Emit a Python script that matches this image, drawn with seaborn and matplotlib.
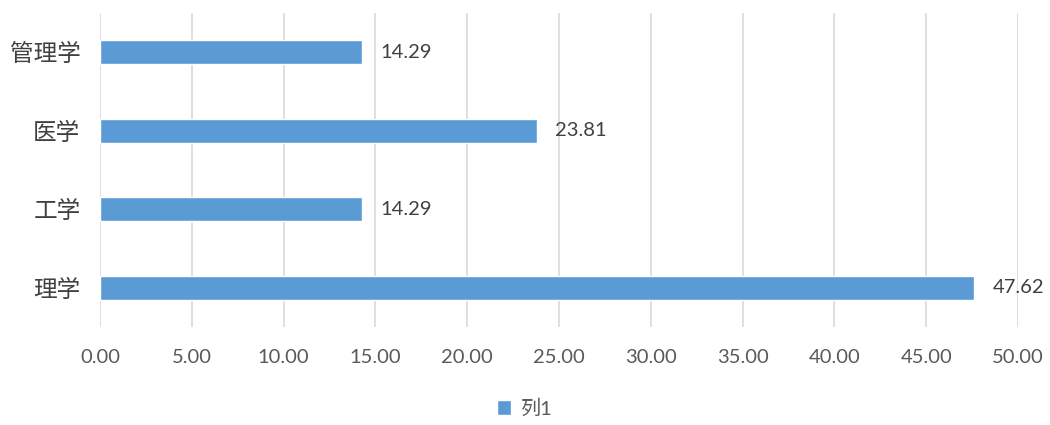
import seaborn as sns
import pandas as pd
import matplotlib.pyplot as plt
import matplotlib

matplotlib.use("agg")

categories = ["管理学", "医学", "工学", "理学"]
values = [14.29, 23.81, 14.29, 47.62]
series_name = "列1"
xticks = [0, 5, 10, 15, 20, 25, 30, 35, 40, 45, 50]

sns.set_style("white")
plt.rcParams["font.family"] = ["Lato", "Noto Sans CJK SC", "DejaVu Sans"]

df = pd.DataFrame({"category": categories, "value": values})

fig = plt.figure(figsize=(10.5, 4.25), dpi=100)
ax = fig.add_axes([0.0952, 0.2306, 0.8743, 0.7388])

sns.barplot(data=df, x="value", y="category", order=categories, color="#5B9BD5",
            saturation=1, width=0.3, label=series_name, ax=ax, orient="h")

for c in ax.containers:
    ax.bar_label(c, labels=[f"{v:.2f}" for v in values], padding=13,
                 fontsize=14.5, color="#404040")

ax.set_xlim(0, 50)
ax.set_ylim(3.5, -0.5)
ax.set_xticks(xticks)
ax.set_xticklabels([f"{t:.2f}" for t in xticks])
ax.grid(axis="x", color="#d9d9d9", linewidth=1.2)
ax.set_axisbelow(True)
for s in ax.spines.values():
    s.set_visible(False)
ax.tick_params(axis="x", length=0, pad=16, labelsize=14.5, labelcolor="#595959")
ax.tick_params(axis="y", length=0, pad=14, labelsize=17, labelcolor="#404040")
ax.set_xlabel("")
ax.set_ylabel("")

if ax.legend_:
    ax.legend_.remove()
handles, labels = ax.get_legend_handles_labels()
fig.legend(handles, labels, loc="lower center", bbox_to_anchor=(0.5, -0.025),
           frameon=False, fontsize=14.5, handlelength=0.7, handleheight=0.7,
           handletextpad=0.5, labelcolor="#595959")

plt.savefig("out.png", dpi=100)
